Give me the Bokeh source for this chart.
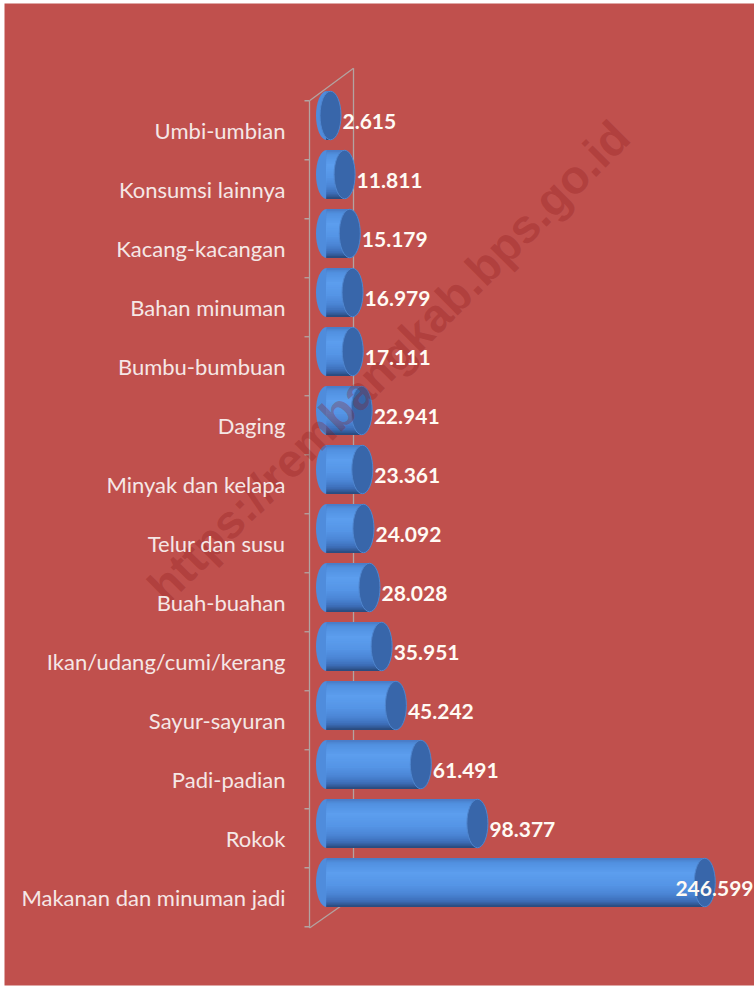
from bokeh.plotting import figure
from bokeh.models import ColumnDataSource, Range1d
from bokeh.core.properties import value
from bokeh.embed import file_html
from bokeh.resources import INLINE
import math

# ---------------- data (top to bottom as shown) ----------------
categories = [
    "Umbi-umbian", "Konsumsi lainnya", "Kacang-kacangan", "Bahan minuman",
    "Bumbu-bumbuan", "Daging", "Minyak dan kelapa", "Telur dan susu",
    "Buah-buahan", "Ikan/udang/cumi/kerang", "Sayur-sayuran", "Padi-padian",
    "Rokok", "Makanan dan minuman jadi",
]
values = [2.615, 11.811, 15.179, 16.979, 17.111, 22.941, 23.361, 24.092,
          28.028, 35.951, 45.242, 61.491, 98.377, 246.599]
value_labels = ["2.615", "11.811", "15.179", "16.979", "17.111", "22.941", "23.361",
                "24.092", "28.028", "35.951", "45.242", "61.491", "98.377", "246.599"]
watermark = "https://rembangkab.bps.go.id"

# ---------------- layout ----------------
W, H = 754, 986
BL, BT, BR, BB = 4, 3, 0, 1          # thin white page border round the red chart
FW, FH = W - BL - BR, H - BT - BB     # frame size
PX_PER_UNIT = 1.534                   # horizontal scale
X0_PX = 322                           # frame x of value 0
ROW_PX = 59.0                         # row spacing
Y0_PX = 103                           # frame y (from bottom) of the lowest row
n = len(categories)

x_start = -X0_PX / PX_PER_UNIT
x_end = (FW - X0_PX) / PX_PER_UNIT
y_start = -Y0_PX / ROW_PX
y_end = (FH - Y0_PX) / ROW_PX

BG = "#C0504D"
p = figure(width=W, height=H, output_backend="svg", toolbar_location=None,
           x_range=Range1d(x_start, x_end), y_range=Range1d(y_start, y_end),
           x_axis_location=None, y_axis_location=None,
           background_fill_color=BG, border_fill_color="white",
           outline_line_color=None,
           min_border_left=BL, min_border_top=BT, min_border_right=BR,
           min_border_bottom=BB)
p.grid.visible = False

ypos = [n - 1 - i for i in range(n)]
src = ColumnDataSource(dict(cat=categories, val=values, lab=value_labels, y=ypos))

BAR_H = 0.83
CAP_W = 21
WALL = "#B3A3A1"

front_x = -17 / PX_PER_UNIT
back_x = 27 / PX_PER_UNIT
# back wall line (behind bars)
p.segment(x0=[back_x], y0=[-0.25], x1=[back_x], y1=[n - 0.2],
          line_color=WALL, line_width=1.3)
# floor and top slants
p.segment(x0=[front_x, front_x], y0=[-0.77, n - 0.75], x1=[back_x, back_x],
          y1=[-0.25, n - 0.2], line_color=WALL, line_width=1.3)

# left rounded end of cylinders
p.ellipse(x=0, y="y", width=CAP_W, height=BAR_H, width_units="screen",
          height_units="data", source=src, fill_color="#4F8CDC", line_color=None)


# smooth vertical shading of the cylinder body (style only)
def _hex(c):
    return tuple(int(c[i:i + 2], 16) for i in (1, 3, 5))


stops = [(0.0, "#4A7DC8"), (0.08, "#5190E0"), (0.3, "#5C9EEE"), (0.55, "#5595E6"),
         (0.75, "#4A84D4"), (0.9, "#3C6CB6"), (1.0, "#2B4C80")]
NS = 28
strip_colors = []
for k in range(NS):
    t = k / (NS - 1)
    for (t0, c0), (t1, c1) in zip(stops[:-1], stops[1:]):
        if t0 <= t <= t1:
            f = (t - t0) / (t1 - t0)
            a, b = _hex(c0), _hex(c1)
            strip_colors.append("#%02x%02x%02x" % tuple(round(a[j] + (b[j] - a[j]) * f) for j in range(3)))
            break
sh = BAR_H / NS
for k, c in enumerate(strip_colors):
    tops = [y + BAR_H / 2 - sh * k for y in ypos]
    bots = [y - BAR_H / 2 for y in ypos]
    p.quad(left=0, right=values, top=tops, bottom=bots,
           fill_color=c, line_color=None)

# right cap
p.ellipse(x="val", y="y", width=CAP_W, height=BAR_H * 0.99, width_units="screen",
          height_units="data", source=src, fill_color="#3866AA",
          line_color="#4F86CF", line_width=1)

# front wall line and ticks
p.segment(x0=[front_x], y0=[-0.77], x1=[front_x], y1=[n - 0.75],
          line_color=WALL, line_width=1.3)
tick_y = [k - 0.75 for k in range(n + 1)]
p.segment(x0=[front_x] * len(tick_y), y0=tick_y,
          x1=[front_x - 5 / PX_PER_UNIT] * len(tick_y), y1=tick_y,
          line_color=WALL, line_width=1.3)

# watermark
p.text(x=[(384 - X0_PX) / PX_PER_UNIT], y=[(FH - 358 - Y0_PX) / ROW_PX], text=[watermark],
       angle=math.pi / 4, text_align="center", text_baseline="middle",
       text_font=value("Liberation Sans"), text_font_style="bold",
       text_font_size="47px", text_color="#8B1A1A", text_alpha=0.3)

# category labels
p.text(x=0, y="y", text="cat", source=src, x_offset=-41, y_offset=15,
       text_align="right", text_baseline="middle", text_font=value("Lato"),
       text_font_size="22px", text_color="#F5E7E6")

# value labels; a label that would overflow the chart stays inside at the right edge
LAB_CHAR_PX = 11.5
inside, outside = dict(x=[], y=[], t=[]), dict(x=[], y=[], t=[])
for v, y, t in zip(values, ypos, value_labels):
    end_px = X0_PX + v * PX_PER_UNIT + 12 + len(t) * LAB_CHAR_PX
    if end_px > FW:
        inside["x"].append(x_end); inside["y"].append(y); inside["t"].append(t)
    else:
        outside["x"].append(v); outside["y"].append(y); outside["t"].append(t)
p.text(x="x", y="y", text="t", source=ColumnDataSource(outside), x_offset=12, y_offset=6,
       text_align="left", text_baseline="middle", text_font=value("Lato"),
       text_font_style="bold", text_font_size="21px", text_color="#FFFAF4")
p.text(x="x", y="y", text="t", source=ColumnDataSource(inside), x_offset=-1, y_offset=6,
       text_align="right", text_baseline="middle", text_font=value("Lato"),
       text_font_style="bold", text_font_size="21px", text_color="#FFFAF4")

open("out.html", "w").write(file_html(p, INLINE))
